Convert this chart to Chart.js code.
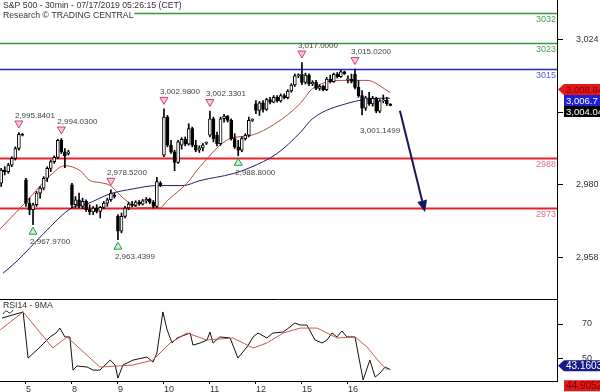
<!DOCTYPE html>
<html lang="en">
<head>
<meta charset="UTF-8">
<title>S&amp;P 500 - 30min</title>
<script src="https://cdn.jsdelivr.net/npm/chart.js"></script>
<style>
  html, body { margin: 0; padding: 0; background: #fff; }
  #wrap { position: relative; width: 600px; height: 392px; overflow: hidden; }
  #price { position: absolute; left: 0; top: 0; }
  #rsi { position: absolute; left: 0; top: 299px; }
</style>
</head>
<body>
<div id="wrap">
  <canvas id="price" width="600" height="299"></canvas>
  <canvas id="rsi" width="600" height="93"></canvas>
</div>
<script>
// 30 min bars: Jul 3 (partial), 5, 8, 9, 10, 11, 12, 15, 16
const opens = [
  2980.5, 2984.5, 2984, 2986, 2988, 2991, 2995.3,
  2981.5, 2974.5, 2972.5, 2974, 2977.5, 2979, 2982, 2985, 2987, 2988.3, 2993.5, 2990, 2989.5,
  2980, 2974, 2975.5, 2973.5, 2975, 2972.5, 2971.8, 2973, 2972, 2973.2, 2974.5, 2975.5, 2977,
  2970.5, 2966, 2970.5, 2973, 2974.2, 2973.8, 2974.8, 2974.2, 2975.2, 2975.6, 2974.8, 2973.5, 2980.5,
  2989, 3000.5, 2992, 2990, 2986.8, 2992, 2993.8, 2992.3, 2997, 2992, 2990.5, 2991.2, 2992.6,
  2995, 3000, 2995, 2992.5, 3000, 3000.8, 2999.5, 2994, 2991.5, 2990.5, 2994, 2995, 2999.5,
  3004.5, 3002.5, 3004.8, 3002.8, 3005.8, 3005, 3006.5, 3005.4, 3007, 3006.4, 3008.4, 3010.2, 3013,
  3013.5, 3011, 3013.2, 3010.5, 3011, 3009.2, 3009.8, 3008.8, 3012, 3011.2, 3013.4, 3012.7, 3014.2,
  3011.8, 3012, 3013.5, 3009.5, 3007, 3003.2, 3006.3, 3004.5, 3006.2, 3002.3, 3005.4, 3005.6, 3004.3
];
const highs = [
  2985, 2985.5, 2986.5, 2988.5, 2991.5, 2995.84, 2995.6,
  2982, 2976, 2974.5, 2978, 2979.5, 2982.5, 2985.5, 2987.5, 2988.8, 2993.8, 2994.03, 2991, 2990.5,
  2980.5, 2976.5, 2977.5, 2976, 2975.5, 2974, 2973.5, 2974, 2973.5, 2975, 2976, 2978.52, 2977.5,
  2971, 2971.5, 2973.5, 2974.8, 2975, 2975.2, 2975.3, 2975.6, 2976.2, 2976, 2975.3, 2982.3, 2981,
  3002.98, 3001, 2993.5, 2990.5, 2993.5, 2994.3, 2994.5, 2998.5, 2997.5, 2993.5, 2991.8, 2992.5, 2993,
  3002.33, 3000.5, 2996, 3000.5, 3001.3, 3001, 3000, 2995.5, 2993.5, 2994.5, 2995.5, 3000.5, 3000,
  3005.5, 3005.2, 3005.5, 3006.2, 3006.5, 3007, 3007, 3007.5, 3007.5, 3008.8, 3010.6, 3013.5, 3013.6,
  3017, 3013.8, 3013.6, 3011.5, 3011.6, 3010.3, 3010.2, 3012.5, 3013.2, 3013.8, 3014, 3014.6, 3014.4,
  3013, 3013.5, 3015.02, 3011.5, 3008.5, 3006.8, 3008, 3006.8, 3006.5, 3005.8, 3007.2, 3006.5, 3004.6
];
const lows = [
  2979.5, 2983, 2983.5, 2985.5, 2987.5, 2990.5, 2994.8,
  2973.5, 2971, 2967.97, 2973.5, 2976, 2978.5, 2981, 2984, 2986.5, 2988, 2989.5, 2985.2, 2989,
  2973, 2973, 2973, 2972.8, 2972, 2971, 2971, 2971.5, 2970, 2972.8, 2973.5, 2975, 2976,
  2963.44, 2965.5, 2970, 2972.5, 2973.3, 2973.5, 2973.8, 2973.9, 2974.5, 2974.3, 2973, 2973.2, 2979.5,
  2988.5, 2991.5, 2989.5, 2984.3, 2986.5, 2990.8, 2991.8, 2992, 2991.5, 2990, 2989.8, 2990.3, 2992.2,
  2994.5, 2993, 2991.8, 2992, 2999, 2999, 2993.5, 2991, 2988.8, 2990, 2993.5, 2994.5, 2999.2,
  3001.5, 3001, 3002, 3002.5, 3004.5, 3004.8, 3005, 3005, 3006, 3006, 3008, 3009.8, 3012.4,
  3010.3, 3010.5, 3010, 3010, 3008.8, 3008.6, 3008.4, 3008.5, 3010.8, 3011, 3012.3, 3012.5, 3013.4,
  3010.8, 3010.8, 3009, 3006.5, 3001.15, 3002.5, 3004, 3003.8, 3001.8, 3001.8, 3004.8, 3004, 3003.9
];
const closes = [
  2984.5, 2984, 2986, 2988, 2991, 2995.3, 2995,
  2974.5, 2972.5, 2974, 2977.5, 2979, 2982, 2985, 2987, 2988.3, 2993.5, 2990, 2988.8, 2990,
  2974, 2975.5, 2973.5, 2975, 2972.5, 2971.8, 2973, 2972, 2973.2, 2974.5, 2975.5, 2977.5, 2976.5,
  2966, 2970.5, 2973, 2974.2, 2973.8, 2974.8, 2974.2, 2975.2, 2975.6, 2974.8, 2973.5, 2981, 2980,
  3000.5, 2992, 2990, 2986.8, 2993, 2993.8, 2992.3, 2997, 2992, 2990.5, 2991.2, 2992, 2992.8,
  3000, 2994, 2992.5, 3000, 3000.8, 2999.5, 2994, 2991.5, 2990.5, 2994, 2995, 2999.5, 2999.8,
  3002.5, 3004.8, 3002.8, 3005.8, 3005, 3006.5, 3005.4, 3007, 3006.4, 3008.4, 3010.2, 3013, 3013.2,
  3011, 3013.2, 3010.5, 3011, 3009.2, 3009.8, 3008.8, 3012, 3011.2, 3013.4, 3012.7, 3014.2, 3013.6,
  3012, 3011.3, 3009.5, 3007, 3003.2, 3006.3, 3004.5, 3006.2, 3002.3, 3005.4, 3005.6, 3004.5, 3004.04
];

// moving averages on price (bar index, value)
const redMaIdx = [-0.3, 7.3, 13.8, 18, 22.3, 25.1, 27.9, 30.8, 34.4, 39.2, 44.9, 46.9, 52.5, 56.2, 64.7, 70.3, 78, 84.5, 88.1, 97.7, 103.4, 109.9];
const redMaVal = [2966.7, 2975.2, 2982.8, 2985.8, 2984.3, 2981.3, 2980.7, 2979.8, 2976.1, 2973.1, 2973.1, 2975.2, 2980.5, 2985.5, 2994.0, 2994.9, 2998.9, 3004.6, 3009.2, 3011.6, 3011.6, 3008.0];
const blueMaIdx = [0.5, 4.5, 12, 20, 24.3, 30.8, 37.3, 44, 51.4, 56.2, 65.5, 70.3, 78, 84.5, 88.1, 97.7, 107.1, 109.9];
const blueMaVal = [2953.3, 2957.0, 2965.3, 2973.1, 2974.3, 2977.3, 2978.8, 2979.8, 2979.8, 2981.3, 2983.4, 2985.2, 2989.5, 2995.8, 3000.1, 3004.6, 3006.2, 3006.2];

// RSI14 and its 9MA
const rsiIdx = [0.2, 6.2, 7.6, 11, 13.8, 15.5, 16.6, 18, 19.4, 20.3, 21.4, 24.3, 26, 27.9, 30.8, 32.2, 33, 34.4, 37.3, 41.2, 42.9, 44, 45.7, 46.9, 48.3, 49.7, 53.4, 54.2, 56.2, 58.2, 59, 59.9, 61.8, 64.7, 66.9, 69.5, 71.2, 72.6, 75.1, 76.8, 79.7, 81.6, 83, 84.5, 86.4, 88.7, 90.7, 92.1, 93.5, 94.9, 96.3, 97.7, 100, 102.3, 104.2, 105.7, 107.1, 108.5, 110];
const rsiVal = [73.5, 77.1, 50, 56.5, 62.4, 64.7, 67.6, 62.4, 62.4, 42.9, 45.3, 44.7, 42.9, 42.9, 48.8, 45.9, 38.2, 45.9, 48.8, 50.6, 47.6, 52.9, 77.1, 66.5, 58.8, 61.8, 64.7, 57.6, 58.8, 60.6, 65.3, 58.8, 62.4, 61.8, 50, 56.5, 62.4, 64.7, 61.8, 64.7, 65.3, 68.2, 70.6, 69.4, 69.4, 60.6, 58.8, 60.6, 64.7, 62.4, 65.9, 62.4, 62.4, 37.1, 48.8, 38.8, 41.2, 44.7, 43.2];
const rsiMaIdx = [-0.3, 6.2, 14.6, 18.6, 27.9, 37.3, 42.9, 47.7, 52.5, 58.2, 65.5, 71.2, 75.1, 79.7, 84.5, 89.3, 94.9, 100, 103.4, 107.1, 109.3];
const rsiMaVal = [66.5, 77.1, 55.9, 62.4, 44.7, 45.9, 48.8, 58.8, 64.7, 60.6, 61.8, 55.9, 58.8, 64.7, 67.6, 67.6, 61.8, 62.4, 56.5, 47.1, 42.9];

// axes
const dayIdx = [7, 20, 33, 46, 59, 72, 85, 98];
const dayLabels = ['5', '8', '9', '10', '11', '12', '15', '16'];
const priceTicks = [3024, 3002, 2980, 2958];
const rsiTicks = [70, 50];

// support / resistance levels
const levels = [3032, 3023, 3015, 2988, 2973];

// high / low annotations
const markIdx = [5, 17, 9, 31, 33, 46, 59, 67, 85, 100, 102];
const markPrice = [2995.8401, 2994.03, 2967.97, 2978.52, 2963.4399, 3002.98, 3002.3301, 2988.8, 3017, 3015.02, 3001.1499];
const markKind = ['H', 'H', 'L', 'H', 'L', 'H', 'H', 'L', 'H', 'H', 'N'];

// forecast arrow (bar index, price)
const arrowIdx = [112.7, 119.8];
const arrowPrice = [3002.4, 2971.7];

// last-value tags
const priceTagVals = [3008.84, 3006.7, 3004.04];
const rsiTagVals = [43.1603, 44.9052];

const family = '"Liberation Sans", Arial, sans-serif';
Chart.defaults.font.family = family;
Chart.defaults.color = '#333';

const xMin = -0.34, xMax = 157.1;
const levelColors = ['#2f9a3d', '#2f9a3d', '#2626c4', '#e3222c', '#e3222c'];
const levelText = ['#4c9c58', '#4c9c58', '#5b5bb8', '#e0708a', '#e0708a'];
const levelWidth = [1.5, 1.5, 1.5, 2, 2];

const pts = (xs, ys) => xs.map((x, k) => ({ x: x, y: ys[k] }));
const barIdx = closes.map((c, i) => i);

// keep the plot area edge to edge: drop the label paddings Chart.js adds
function tightY(s) {
  s.width = 43;
  s.paddingTop = 0;
  s.paddingBottom = 0;
}
function tightX(s) {
  s.height = 11;
  s.paddingLeft = 0;
  s.paddingRight = 0;
}

function tag(ctx, left, yc, bg, fg, text, pointer, size) {
  const h = 11;
  ctx.fillStyle = bg;
  ctx.beginPath();
  if (pointer) {
    ctx.moveTo(left + 1, yc);
    ctx.lineTo(left + 7, yc - h / 2);
  } else {
    ctx.moveTo(left + 7, yc - h / 2);
  }
  ctx.lineTo(600, yc - h / 2);
  ctx.lineTo(600, yc + h / 2);
  ctx.lineTo(left + 7, yc + h / 2);
  ctx.closePath();
  ctx.fill();
  ctx.fillStyle = fg;
  ctx.font = size + 'px ' + family;
  ctx.textAlign = 'left';
  ctx.textBaseline = 'middle';
  ctx.fillText(text, left + 9, yc + 0.5);
}

const priceDecor = {
  id: 'priceDecor',
  beforeDatasetsDraw(chart) {
    const { ctx, chartArea: a, scales: { y } } = chart;
    ctx.save();
    levels.forEach((v, k) => {
      const py = Math.round(y.getPixelForValue(v)) + 0.5;
      ctx.strokeStyle = levelColors[k];
      ctx.lineWidth = levelWidth[k];
      ctx.beginPath();
      ctx.moveTo(a.left, py);
      ctx.lineTo(a.right, py);
      ctx.stroke();
      ctx.fillStyle = levelText[k];
      ctx.font = '9px ' + family;
      ctx.textAlign = 'right';
      ctx.textBaseline = 'top';
      ctx.fillText(String(v), a.right - 1, py + 2);
    });
    ctx.restore();
  },
  afterDatasetsDraw(chart) {
    const { ctx, scales: { x, y } } = chart;
    ctx.save();
    // highs / lows
    markIdx.forEach((i, k) => {
      const px = x.getPixelForValue(i);
      const py = y.getPixelForValue(markPrice[k]);
      const txt = markPrice[k].toLocaleString('en-US', { minimumFractionDigits: 4, maximumFractionDigits: 4 });
      ctx.lineWidth = 1;
      if (markKind[k] === 'H') {
        const yc = py - 8;
        ctx.beginPath();
        ctx.moveTo(px - 4, yc - 3.5);
        ctx.lineTo(px + 4, yc - 3.5);
        ctx.lineTo(px, yc + 3.5);
        ctx.closePath();
        ctx.fillStyle = '#f7c9d2';
        ctx.strokeStyle = '#d2406a';
        ctx.fill();
        ctx.stroke();
      } else if (markKind[k] === 'L') {
        const yc = py + 6;
        ctx.beginPath();
        ctx.moveTo(px - 4, yc + 3.5);
        ctx.lineTo(px + 4, yc + 3.5);
        ctx.lineTo(px, yc - 3.5);
        ctx.closePath();
        ctx.fillStyle = '#cdf0d3';
        ctx.strokeStyle = '#2a9a47';
        ctx.fill();
        ctx.stroke();
      }
      ctx.fillStyle = '#444';
      ctx.font = '8px ' + family;
      ctx.textAlign = 'left';
      ctx.textBaseline = 'middle';
      if (markKind[k] === 'H') ctx.fillText(txt, px - 4, py - 17);
      else if (markKind[k] === 'L') ctx.fillText(txt, px - 3, py + 17);
      else ctx.fillText(txt, px - 2, py + 16);
    });
    // forecast arrow
    const x1 = x.getPixelForValue(arrowIdx[0]), y1 = y.getPixelForValue(arrowPrice[0]);
    const x2 = x.getPixelForValue(arrowIdx[1]), y2 = y.getPixelForValue(arrowPrice[1]);
    const ang = Math.atan2(y2 - y1, x2 - x1);
    const hl = 12, hw = 5;
    const bx = x2 - hl * Math.cos(ang), by = y2 - hl * Math.sin(ang);
    ctx.strokeStyle = '#15155c';
    ctx.fillStyle = '#15155c';
    ctx.lineWidth = 2;
    ctx.beginPath();
    ctx.moveTo(x1, y1);
    ctx.lineTo(bx, by);
    ctx.stroke();
    ctx.beginPath();
    ctx.moveTo(x2, y2);
    ctx.lineTo(bx + hw * Math.sin(ang), by - hw * Math.cos(ang));
    ctx.lineTo(bx - hw * Math.sin(ang), by + hw * Math.cos(ang));
    ctx.closePath();
    ctx.fill();
    ctx.restore();
  },
  afterDraw(chart) {
    const { ctx, chartArea: a, scales: { y } } = chart;
    ctx.save();
    // header
    ctx.font = '8.7px ' + family;
    ctx.textAlign = 'left';
    ctx.textBaseline = 'middle';
    const t1 = 'S&P 500 - 30min - 07/17/2019 05:26:15 (CET)';
    const t2 = 'Research \u00A9 TRADING CENTRAL';
    ctx.fillStyle = '#fff';
    ctx.fillRect(0, 0, ctx.measureText(t1).width + 4, 11);
    ctx.fillRect(0, 11, ctx.measureText(t2).width + 4, 10);
    ctx.fillStyle = '#333';
    ctx.fillText(t1, 3, 6);
    ctx.fillText(t2, 3, 16);
    // last-value tags
    const styles = [['#e01818', '#7a0000', true], ['#1f1fd8', '#fff', false], ['#000', '#fff', false]];
    let prev = -100;
    priceTagVals.forEach((v, k) => {
      let yc = y.getPixelForValue(v);
      if (yc < prev + 11) yc = prev + 11;
      prev = yc;
      const txt = v.toLocaleString('en-US', { maximumFractionDigits: 2 });
      tag(ctx, a.right, yc, styles[k][0], styles[k][1], txt, styles[k][2], 9.5);
    });
    ctx.restore();
  }
};

const rsiDecor = {
  id: 'rsiDecor',
  afterDraw(chart) {
    const { ctx, chartArea: a, scales: { y } } = chart;
    ctx.save();
    ctx.strokeStyle = '#000';
    ctx.lineWidth = 1;
    ctx.beginPath();
    ctx.moveTo(0, a.top + 0.5);
    ctx.lineTo(a.right, a.top + 0.5);
    ctx.stroke();
    ctx.fillStyle = '#333';
    ctx.font = '8.7px ' + family;
    ctx.textAlign = 'left';
    ctx.textBaseline = 'middle';
    ctx.fillText('RSI14 - 9MA', 3, 6.5);
    ctx.strokeStyle = '#333';
    ctx.beginPath();
    ctx.moveTo(3, 15);
    ctx.quadraticCurveTo(6, 10, 8, 13);
    ctx.quadraticCurveTo(10, 16, 13, 11);
    ctx.stroke();
    const yc = y.getPixelForValue(rsiTagVals[0]) - 4;
    tag(ctx, a.right, yc, '#1a1a8a', '#fff', rsiTagVals[0].toFixed(4), true, 10);
    tag(ctx, a.right, yc + 20, '#e01818', '#7a0000', rsiTagVals[1].toFixed(4), false, 10);
    ctx.restore();
  }
};

window.onload = function () {
  new Chart(document.getElementById('price').getContext('2d'), {
    type: 'bar',
    data: {
      datasets: [
        {
          type: 'line',
          data: pts(redMaIdx, redMaVal),
          borderColor: '#b8473e',
          borderWidth: 1,
          pointRadius: 0,
          cubicInterpolationMode: 'monotone',
          order: 3
        },
        {
          type: 'line',
          data: pts(blueMaIdx, blueMaVal),
          borderColor: '#1f1f70',
          borderWidth: 1,
          pointRadius: 0,
          cubicInterpolationMode: 'monotone',
          order: 3
        },
        {
          data: barIdx.map(i => ({ x: i, y: [lows[i], highs[i]] })),
          backgroundColor: '#000',
          barThickness: 1,
          grouped: false,
          order: 2
        },
        {
          data: barIdx.map(i => ({ x: i, y: [opens[i], closes[i]] })),
          backgroundColor: c => closes[c.dataIndex] >= opens[c.dataIndex] ? '#ffffff' : '#000000',
          borderColor: '#000',
          borderWidth: 1,
          borderSkipped: false,
          barThickness: 3,
          minBarLength: 1,
          grouped: false,
          order: 1
        }
      ]
    },
    options: {
      responsive: false,
      animation: false,
      events: [],
      layout: { padding: 0 },
      plugins: { legend: { display: false }, tooltip: { enabled: false } },
      scales: {
        x: { type: 'linear', min: xMin, max: xMax, offset: false, display: false },
        y: {
          position: 'right',
          min: 2945.5,
          max: 3035.9,
          afterBuildTicks: s => { s.ticks = priceTicks.map(v => ({ value: v })); },
          afterFit: tightY,
          grid: { drawOnChartArea: false, tickLength: 6, color: '#000' },
          border: { display: true, color: '#000' },
          ticks: {
            crossAlign: 'center',
            padding: 13,
            color: '#333',
            font: { size: 9 },
            callback: v => v.toLocaleString('en-US')
          }
        }
      }
    },
    plugins: [priceDecor]
  });

  new Chart(document.getElementById('rsi').getContext('2d'), {
    type: 'line',
    data: {
      datasets: [
        {
          data: pts(rsiMaIdx, rsiMaVal),
          borderColor: '#c35a55',
          borderWidth: 1,
          pointRadius: 0,
          tension: 0
        },
        {
          data: pts(rsiIdx, rsiVal),
          borderColor: '#111',
          borderWidth: 1,
          pointRadius: 0,
          tension: 0
        }
      ]
    },
    options: {
      responsive: false,
      animation: false,
      events: [],
      layout: { padding: 0 },
      plugins: { legend: { display: false }, tooltip: { enabled: false } },
      scales: {
        x: {
          type: 'linear',
          min: xMin,
          max: xMax,
          offset: false,
          afterBuildTicks: s => { s.ticks = dayIdx.map(v => ({ value: v })); },
          afterFit: tightX,
          grid: { drawOnChartArea: false, tickLength: 3, color: '#000' },
          border: { display: true, color: '#000' },
          ticks: {
            autoSkip: false,
            maxRotation: 0,
            align: 'start',
            padding: 0,
            color: '#333',
            font: { size: 9 },
            callback: (v, i) => dayLabels[i]
          }
        },
        y: {
          position: 'right',
          min: 36.5,
          max: 84.7,
          afterBuildTicks: s => { s.ticks = rsiTicks.map(v => ({ value: v })); },
          afterFit: tightY,
          grid: { drawOnChartArea: false, tickLength: 6, color: '#000' },
          border: { display: true, color: '#000' },
          ticks: { crossAlign: 'center', padding: 19, color: '#333', font: { size: 9 } }
        }
      }
    },
    plugins: [rsiDecor]
  });
};
</script>
</body>
</html>
